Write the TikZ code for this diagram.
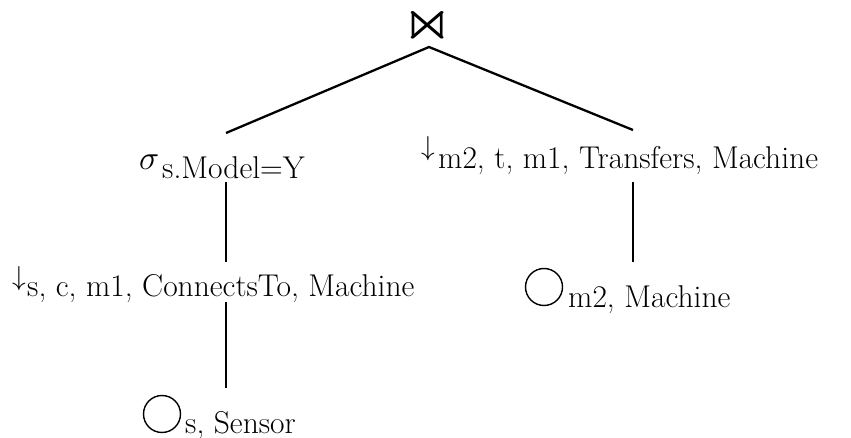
\RequirePackage{fix-cm}
\documentclass[tikz,border=0pt]{standalone}
\usepackage{amssymb}
\usetikzlibrary{positioning}
\tikzset{
  subtxt/.style={anchor=base west, inner sep=0pt, font=\fontsize{31.5}{36}\selectfont},
  opsym/.style={inner sep=0pt},
  leaf/.style={circle, draw, line width=1.4pt, minimum size=37pt, inner sep=0pt},
  edge/.style={line width=2.3pt},
}
\newcommand{\projsym}{\resizebox{!}{19pt}{$\downarrow$}}
\begin{document}
\begin{tikzpicture}[x=1pt,y=-1pt]
    \useasboundingbox (0,0) rectangle (851,438);
    % --- root: join ---
    \node[opsym] (join) at (428,25) {\resizebox{52pt}{33pt}{$\Join$}};
    \coordinate (apex) at (429,47);
    % --- left branch ---
    \node[opsym, anchor=base west] (sel) at (139,170) {\fontsize{34}{40}\selectfont$\sigma$};
    \node[subtxt] (selsub) at (162,179) {s.Model=Y};
    \coordinate (selTop) at (226,133);
    \coordinate (selBot) at (226,182);
    \node[opsym] (projL) at (19,279) {\projsym};
    \node[subtxt] (projLsub) at (27,297) {s, c, m1, ConnectsTo, Machine};
    \coordinate (projLTop) at (226,262);
    \coordinate (projLBot) at (226,302);
    \node[leaf] (scanS) at (162,414) {};
    \node[subtxt] (scanSsub) at (185,433) {s, Sensor};
    \coordinate (scanSTop) at (226,388);
    % --- right branch ---
    \node[opsym] (projR) at (428,149) {\projsym};
    \node[subtxt] (projRsub) at (438,169) {m2, t, m1, Transfers, Machine};
    \coordinate (projRTop) at (633,130);
    \coordinate (projRBot) at (633,182);
    \node[leaf] (scanM) at (544,287) {};
    \node[subtxt] (scanMsub) at (568,308) {m2, Machine};
    \coordinate (scanMTop) at (633,262);
    % --- edges ---
    \draw[edge] (selTop) -- (apex) -- (projRTop);
    \draw[edge] (selBot) -- (projLTop);
    \draw[edge] (projLBot) -- (scanSTop);
    \draw[edge] (projRBot) -- (scanMTop);
\end{tikzpicture}
\end{document}
